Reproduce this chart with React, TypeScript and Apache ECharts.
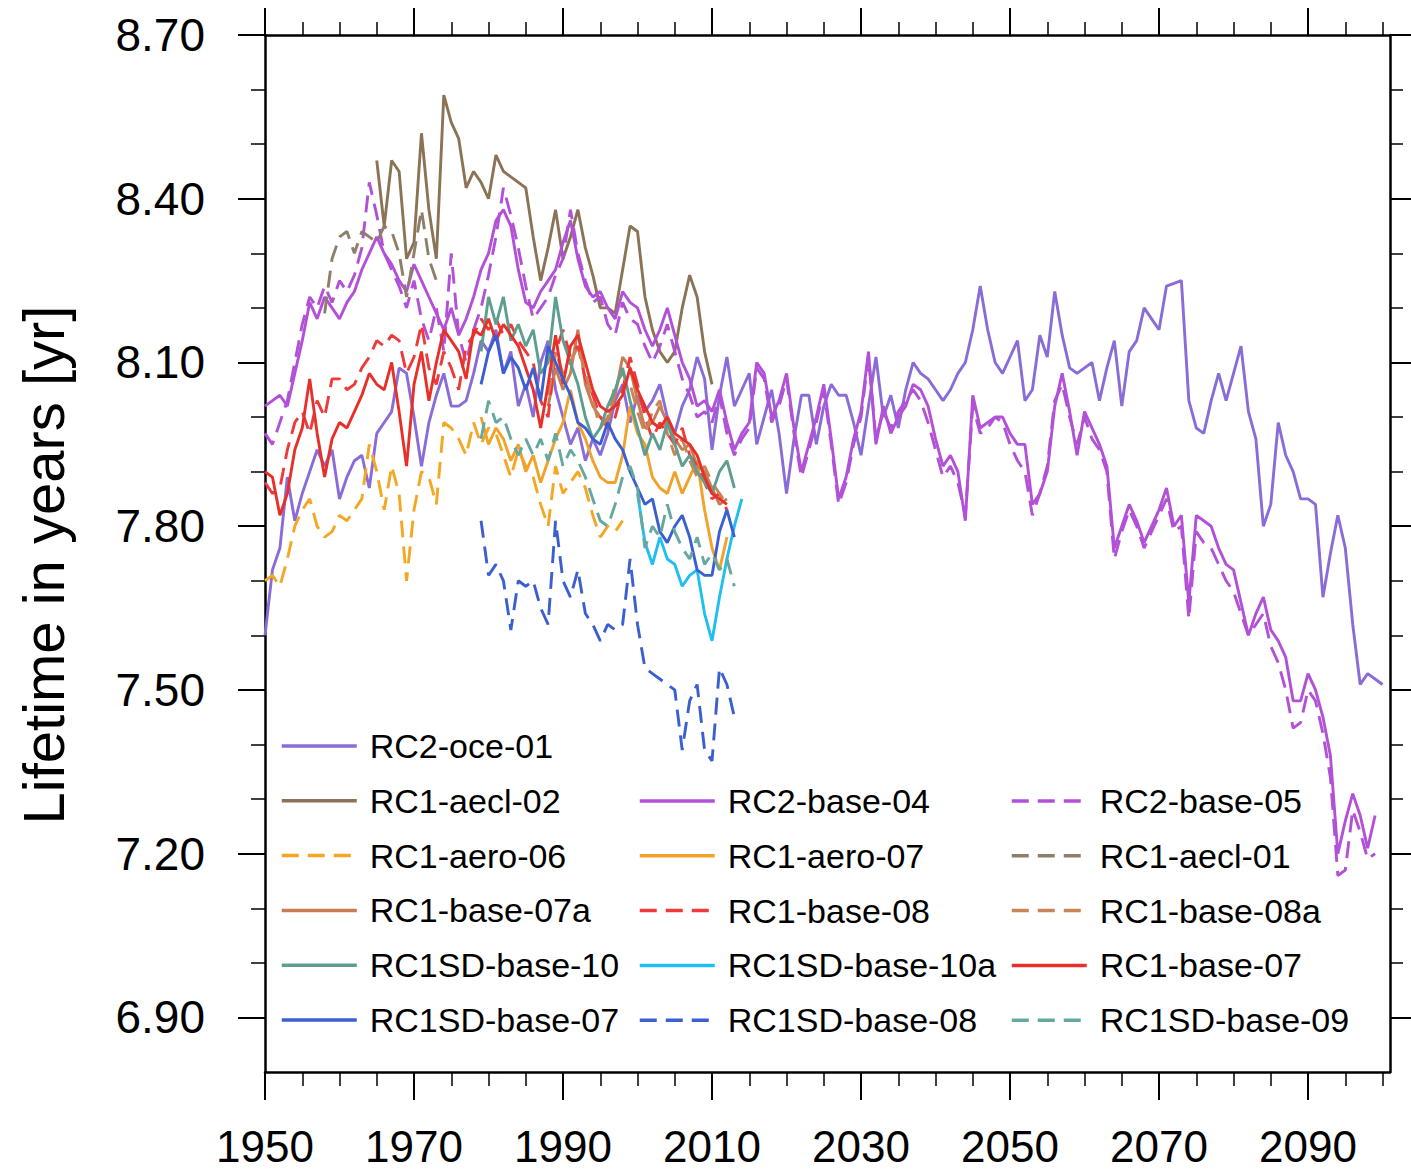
import React, { useEffect, useRef } from "react";
import * as echarts from "echarts";

// ---- axis ticks ----
const xMajorTicks = [1950, 1970, 1990, 2010, 2030, 2050, 2070, 2090];
const xMinorTicks = [1955, 1960, 1965, 1975, 1980, 1985, 1995, 2000, 2005, 2015, 2020, 2025, 2035, 2040, 2045, 2055, 2060, 2065, 2075, 2080, 2085, 2095, 2100];
const yMajorTicks = [6.9, 7.2, 7.5, 7.8, 8.1, 8.4, 8.7];
const yMinorTicks = [7.0, 7.1, 7.3, 7.4, 7.6, 7.7, 7.9, 8.0, 8.2, 8.3, 8.5, 8.6];
const yTitle = "Lifetime in years [yr]";

// ---- series values (annual, from start year) ----
const oce01Start = 1950;
const oce01 = [
  7.60, 7.72, 7.76, 7.89, 7.81, 7.86, 7.90, 7.94, 7.91, 7.94,
  7.85, 7.89, 7.92, 7.93, 7.87, 7.97, 7.99, 8.01, 8.09, 8.08,
  8.00, 7.91, 7.99, 8.04, 8.08, 8.02, 8.02, 8.03, 8.08, 8.14,
  8.12, 8.16, 8.08, 8.12, 8.02, 8.06, 8.00, 8.10, 8.14, 8.05,
  8.00, 7.95, 7.98, 7.92, 7.96, 7.93, 7.97, 8.03, 8.06, 7.99,
  8.04, 8.01, 8.03, 8.06, 8.00, 7.97, 8.02, 8.05, 8.11, 8.07,
  7.94, 8.04, 8.11, 8.02, 8.05, 8.08, 7.95, 8.00, 8.05, 7.97,
  7.86, 7.96, 8.04, 8.04, 7.95, 8.02, 8.06, 8.04, 8.04, 7.99,
  7.93, 8.02, 8.11, 8.00, 8.04, 7.98, 8.05, 8.10, 8.08, 8.07,
  8.05, 8.03, 8.05, 8.08, 8.10, 8.16, 8.24, 8.16, 8.10, 8.08,
  8.11, 8.14, 8.03, 8.05, 8.15, 8.11, 8.23, 8.15, 8.09, 8.08,
  8.09, 8.10, 8.03, 8.09, 8.14, 8.02, 8.12, 8.14, 8.20, 8.18,
  8.16, 8.24, 8.245, 8.25, 8.03, 7.98, 7.97, 8.03, 8.08, 8.03,
  8.08, 8.13, 8.01, 7.96, 7.80, 7.84, 7.99, 7.93, 7.90, 7.85,
  7.85, 7.84, 7.67, 7.75, 7.82, 7.76, 7.62, 7.51, 7.53, 7.52, 7.51,
];
const aecl02Start = 1965;
const aecl02 = [
  8.47, 8.35, 8.47, 8.45, 8.29, 8.32, 8.52, 8.38, 8.29, 8.59,
  8.54, 8.51, 8.42, 8.45, 8.43, 8.40, 8.48, 8.45, 8.44, 8.43,
  8.42, 8.33, 8.25, 8.31, 8.38, 8.29, 8.33, 8.38, 8.31, 8.26,
  8.20, 8.20, 8.19, 8.27, 8.35, 8.34, 8.22, 8.16, 8.12, 8.10,
  8.12, 8.20, 8.26, 8.22, 8.12, 8.06,
];
const base04Start = 1950;
const base04 = [
  8.02, 8.03, 8.04, 8.02, 8.08, 8.14, 8.21, 8.18, 8.22, 8.20,
  8.18, 8.21, 8.23, 8.27, 8.30, 8.33, 8.30, 8.28, 8.25, 8.23,
  8.28, 8.25, 8.22, 8.19, 8.16, 8.20, 8.15, 8.18, 8.22, 8.27,
  8.30, 8.36, 8.38, 8.35, 8.27, 8.21, 8.20, 8.23, 8.25, 8.27,
  8.32, 8.36, 8.29, 8.24, 8.22, 8.23, 8.20, 8.18, 8.23, 8.21,
  8.20, 8.16, 8.13, 8.16, 8.20, 8.15, 8.10, 8.07, 8.02, 8.03,
  8.01, 8.05, 7.99, 7.94, 7.97, 7.99, 8.10, 8.08, 8.00, 8.03,
  8.08, 7.98, 7.90, 7.95, 8.00, 8.06, 7.96, 7.85, 7.89, 7.96,
  8.01, 8.12, 7.95, 8.02, 7.97, 8.00, 8.02, 8.06, 8.05, 8.02,
  7.96, 7.91, 7.93, 7.90, 7.81, 8.04, 7.98, 7.99, 8.00, 8.00,
  7.97, 7.95, 7.95, 7.84, 7.86, 7.90, 8.02, 8.08, 8.01, 7.93,
  8.01, 7.98, 7.95, 7.91, 7.76, 7.80, 7.84, 7.81, 7.77, 7.80,
  7.83, 7.87, 7.80, 7.82, 7.66, 7.82, 7.81, 7.80, 7.76, 7.73,
  7.72, 7.66, 7.60, 7.64, 7.67, 7.61, 7.59, 7.56, 7.48, 7.48,
  7.53, 7.50, 7.45, 7.38, 7.20, 7.26, 7.31, 7.27, 7.21, 7.27,
];
const base05Start = 1950;
const base05 = [
  7.97, 7.95, 7.99, 8.03, 8.10, 8.17, 8.22, 8.20, 8.24, 8.21,
  8.25, 8.23, 8.26, 8.31, 8.43, 8.37, 8.30, 8.27, 8.24, 8.20,
  8.25, 8.18, 8.14, 8.20, 8.12, 8.30, 8.15, 8.10, 8.16, 8.20,
  8.26, 8.33, 8.42, 8.37, 8.31, 8.24, 8.18, 8.20, 8.22, 8.26,
  8.29, 8.38, 8.30, 8.25, 8.21, 8.22, 8.17, 8.15, 8.21, 8.18,
  8.17, 8.13, 8.10, 8.13, 8.17, 8.12, 8.07, 8.04, 8.00, 8.01,
  7.99, 8.04, 7.97, 7.93, 7.96, 7.98, 8.09, 8.07, 7.99, 8.02,
  8.07, 7.97, 7.89, 7.94, 7.99, 8.05, 7.95, 7.84, 7.88, 7.95,
  8.00, 8.11, 7.96, 8.01, 7.98, 8.01, 8.03, 8.05, 8.03, 7.99,
  7.94, 7.89, 7.91, 7.88, 7.82, 8.02, 7.97, 7.98, 8.00, 7.99,
  7.95, 7.92, 7.90, 7.82, 7.86, 7.91, 8.03, 8.06, 8.00, 7.95,
  8.00, 7.96, 7.94, 7.90, 7.74, 7.79, 7.83, 7.80, 7.76, 7.79,
  7.82, 7.85, 7.79, 7.80, 7.63, 7.79, 7.77, 7.76, 7.73, 7.70,
  7.68, 7.64, 7.60, 7.62, 7.64, 7.58, 7.55, 7.50, 7.43, 7.44,
  7.50, 7.48, 7.42, 7.34, 7.16, 7.17, 7.28, 7.24, 7.19, 7.20,
];
const aero06Start = 1950;
const aero06 = [
  7.70, 7.71, 7.69, 7.74, 7.80, 7.83, 7.85, 7.80, 7.78, 7.79,
  7.82, 7.81, 7.83, 7.85, 7.95, 7.90, 7.83, 7.91, 7.86, 7.70,
  7.83, 7.90, 7.89, 7.84, 7.99, 7.98, 7.96, 7.93, 7.99, 7.95,
  7.98, 7.97, 7.93, 7.89, 7.94, 7.91, 7.89, 7.84, 7.80, 7.91,
  7.86, 7.88, 7.90, 7.87, 7.82, 7.78, 7.80, 7.79, 7.81,
];
const aero07Start = 1979;
const aero07 = [
  8.00, 7.95, 7.98, 7.96, 7.92, 7.95, 7.90, 7.93, 7.88, 7.92,
  7.96, 7.99, 8.05, 7.99, 7.96, 7.92, 7.89, 7.88, 7.88, 7.93,
  8.02, 7.97, 7.95, 7.89, 7.87, 7.86, 7.90, 7.86, 7.89, 7.92,
  7.83, 7.76, 7.72, 7.78,
];
const aecl01Start = 1958;
const aecl01 = [8.19, 8.29, 8.33, 8.34, 8.30, 8.34, 8.33, 8.32, 8.35, 8.34, 8.30, 8.22, 8.30, 8.38, 8.29, 8.25];
const base07aStart = 1988;
const base07a = [
  8.02, 8.09, 8.05, 8.08, 8.16, 8.06, 8.02, 8.00, 7.99, 8.04,
  8.11, 8.09, 8.03, 7.98, 7.99, 8.02, 7.99, 7.96, 7.94, 7.95,
  7.91, 7.90, 7.87, 7.84, 7.85,
];
const base08Start = 1950;
const base08 = [
  7.88, 7.86, 7.87, 7.94, 7.99, 8.01, 7.97, 8.03, 8.00, 8.07,
  8.07, 8.05, 8.06, 8.09, 8.11, 8.14, 8.13, 8.15, 8.14, 8.08,
  8.11, 8.17, 8.09, 8.06, 8.12, 8.09, 8.05, 8.13, 8.15, 8.18,
  8.16, 8.18, 8.15, 8.17, 8.14, 8.12, 8.10, 8.03, 8.00, 8.12,
  8.16, 8.11, 8.13, 8.07, 8.04, 8.00, 7.98, 8.00, 8.05, 8.11,
  8.06, 8.00, 7.96, 7.99, 7.97, 7.95, 7.98, 7.93, 7.91, 7.88,
  7.85, 7.86, 7.83,
];
const base08aStart = 1988;
const base08a = [
  8.04, 8.12, 8.08, 8.10, 8.13, 8.08, 8.03, 7.98, 8.00, 8.06,
  8.08, 8.06, 8.01, 7.97, 8.01, 8.03, 7.97, 7.93, 7.96, 7.92,
  7.89, 7.91, 7.88, 7.86, 7.84,
];
const sd10Start = 1979;
const sd10 = [
  8.12, 8.22, 8.17, 8.22, 8.14, 8.17, 8.13, 8.16, 8.08, 8.10,
  8.22, 8.14, 8.10, 8.06, 8.00, 7.96, 7.98, 8.02, 8.05, 8.09,
  8.03, 7.98, 7.93, 7.97, 7.94, 7.99, 7.95, 7.91, 7.93, 7.90,
  7.88, 7.86, 7.90, 7.92, 7.87,
];
const sd10aStart = 2000;
const sd10a = [7.86, 7.77, 7.73, 7.78, 7.74, 7.73, 7.69, 7.71, 7.72, 7.64, 7.59, 7.67, 7.74, 7.80, 7.85];
const base07Start = 1950;
const base07 = [
  7.90, 7.89, 7.82, 7.86, 7.94, 7.98, 8.07, 7.97, 7.89, 7.96,
  7.99, 7.98, 8.01, 8.04, 8.08, 8.06, 8.05, 8.10, 8.01, 7.91,
  8.06, 8.12, 8.03, 8.10, 8.16, 8.14, 8.12, 8.07, 8.16, 8.15,
  8.18, 8.14, 8.17, 8.15, 8.13, 8.09, 8.05, 7.98, 8.06, 8.15,
  8.06, 8.13, 8.15, 8.10, 8.05, 8.02, 8.01, 8.02, 8.04, 8.09,
  8.05, 8.02, 7.99, 7.98, 8.00, 7.97, 7.96, 7.95, 7.93, 7.89,
  7.86, 7.85, 7.84,
];
const sd07Start = 1979;
const sd07 = [
  8.06, 8.12, 8.15, 8.08, 8.11, 8.09, 8.05, 8.09, 8.03, 8.13,
  8.10, 8.07, 8.04, 7.99, 7.98, 7.96, 7.95, 7.99, 7.96, 7.94,
  7.90, 7.87, 7.84, 7.85, 7.79, 7.77, 7.80, 7.82, 7.78, 7.72,
  7.71, 7.71, 7.79, 7.83, 7.78,
];
const sd08Start = 1979;
const sd08 = [
  7.81, 7.71, 7.73, 7.70, 7.61, 7.70, 7.69, 7.70, 7.65, 7.62,
  7.81, 7.70, 7.67, 7.72, 7.64, 7.62, 7.59, 7.62, 7.61, 7.62,
  7.74, 7.62, 7.54, 7.53, 7.52, 7.51, 7.50, 7.39, 7.48, 7.51,
  7.39, 7.37, 7.54, 7.51, 7.45,
];
const sd09Start = 1979;
const sd09 = [
  7.96, 8.03, 7.99, 8.00, 7.96, 7.93, 7.96, 7.93, 7.96, 7.92,
  7.97, 7.91, 7.94, 7.92, 7.89, 7.85, 7.81, 7.80, 7.84, 7.89,
  7.91, 7.87, 7.76, 7.80, 7.78, 7.84, 7.79, 7.76, 7.74, 7.78,
  7.73, 7.75, 7.72, 7.74, 7.69,
];

// ---- series meta (name, values, start, colour, dashed) ----
const seriesList = [
  { name: "RC2-oce-01", values: oce01, start: oce01Start, color: "#8a6cd8", dashed: false },
  { name: "RC1-aecl-02", values: aecl02, start: aecl02Start, color: "#8b7355", dashed: false },
  { name: "RC2-base-04", values: base04, start: base04Start, color: "#b251d8", dashed: false },
  { name: "RC2-base-05", values: base05, start: base05Start, color: "#b251d8", dashed: true },
  { name: "RC1-aero-06", values: aero06, start: aero06Start, color: "#f5a623", dashed: true },
  { name: "RC1-aero-07", values: aero07, start: aero07Start, color: "#f0a22a", dashed: false },
  { name: "RC1-aecl-01", values: aecl01, start: aecl01Start, color: "#8e7f6b", dashed: true },
  { name: "RC1-base-07a", values: base07a, start: base07aStart, color: "#c77c55", dashed: false },
  { name: "RC1-base-08", values: base08, start: base08Start, color: "#ee3a3a", dashed: true },
  { name: "RC1-base-08a", values: base08a, start: base08aStart, color: "#c98558", dashed: true },
  { name: "RC1SD-base-10", values: sd10, start: sd10Start, color: "#5e9e90", dashed: false },
  { name: "RC1SD-base-10a", values: sd10a, start: sd10aStart, color: "#1fbfef", dashed: false },
  { name: "RC1-base-07", values: base07, start: base07Start, color: "#e8302a", dashed: false },
  { name: "RC1SD-base-07", values: sd07, start: sd07Start, color: "#3b5fd0", dashed: false },
  { name: "RC1SD-base-08", values: sd08, start: sd08Start, color: "#3b5fd0", dashed: true },
  { name: "RC1SD-base-09", values: sd09, start: sd09Start, color: "#66a8a0", dashed: true },
];

const legendCol1 = ["RC2-oce-01", "RC1-aecl-02", "RC1-aero-06", "RC1-base-07a", "RC1SD-base-10", "RC1SD-base-07"];
const legendCol2 = ["RC2-base-04", "RC1-aero-07", "RC1-base-08", "RC1SD-base-10a", "RC1SD-base-08"];
const legendCol3 = ["RC2-base-05", "RC1-aecl-01", "RC1-base-08a", "RC1-base-07", "RC1SD-base-09"];

const FONT = "'Liberation Sans', Arial, Helvetica, sans-serif";
const DASH = [17, 9];

export default function App() {
  const ref = useRef<HTMLDivElement>(null);

  useEffect(() => {
    document.body.style.margin = "0";
    if (!ref.current) return;
    const chart = echarts.init(ref.current, undefined, { renderer: "svg" });

    const axisLineStyle = { color: "#000", width: 2.5 };
    const baseX = {
      type: "value" as const,
      min: 1950,
      max: 2101,
      splitLine: { show: false },
    };
    const baseY = {
      type: "value" as const,
      min: 6.8,
      max: 8.7,
      splitLine: { show: false },
    };

    const legendCommon = {
      orient: "vertical" as const,
      padding: 0,
      itemWidth: 75,
      itemHeight: 14,
      itemGap: 14.8,
      selectedMode: false,
      lineStyle: { width: 3.5 },
      itemStyle: { opacity: 0 },
      textStyle: { fontSize: 34, fontFamily: FONT, color: "#000", lineHeight: 40, padding: [0, 0, 0, 8] },
    };

    chart.setOption({
      animation: false,
      backgroundColor: "#fff",
      grid: { left: 265, top: 35, width: 1125, height: 1037, containLabel: false, outerBoundsMode: "none" },
      xAxis: [
        {
          ...baseX,
          position: "bottom",
          axisLine: { show: true, lineStyle: axisLineStyle },
          axisTick: { show: true, customValues: xMajorTicks, length: 28, lineStyle: { color: "#000", width: 2 } },
          axisLabel: {
            show: true,
            customValues: xMajorTicks,
            formatter: (v: number) => String(v),
            fontSize: 44,
            lineHeight: 44,
            fontFamily: FONT,
            color: "#000",
            margin: 52,
          },
        },
        {
          ...baseX,
          position: "bottom",
          axisLine: { show: false },
          axisTick: { show: true, customValues: xMinorTicks, length: 14, lineStyle: { color: "#000", width: 1.5 } },
          axisLabel: { show: false },
        },
        {
          ...baseX,
          position: "top",
          axisLine: { show: true, lineStyle: axisLineStyle },
          axisTick: { show: true, customValues: xMajorTicks, length: 27, lineStyle: { color: "#000", width: 2 } },
          axisLabel: { show: false },
        },
        {
          ...baseX,
          position: "top",
          axisLine: { show: false },
          axisTick: { show: true, customValues: xMinorTicks, length: 13, lineStyle: { color: "#000", width: 1.5 } },
          axisLabel: { show: false },
        },
      ],
      yAxis: [
        {
          ...baseY,
          position: "left",
          axisLine: { show: true, lineStyle: axisLineStyle },
          axisTick: { show: true, customValues: yMajorTicks, length: 27, lineStyle: { color: "#000", width: 2 } },
          axisLabel: {
            show: true,
            customValues: yMajorTicks,
            formatter: (v: number) => v.toFixed(2),
            fontSize: 46,
            fontFamily: FONT,
            color: "#000",
            margin: 60,
          },
        },
        {
          ...baseY,
          position: "left",
          axisLine: { show: false },
          axisTick: { show: true, customValues: yMinorTicks, length: 14, lineStyle: { color: "#000", width: 1.5 } },
          axisLabel: { show: false },
        },
        {
          ...baseY,
          position: "right",
          axisLine: { show: true, lineStyle: axisLineStyle },
          axisTick: { show: true, customValues: yMajorTicks, length: 22, lineStyle: { color: "#000", width: 2 } },
          axisLabel: { show: false },
        },
        {
          ...baseY,
          position: "right",
          axisLine: { show: false },
          axisTick: { show: true, customValues: yMinorTicks, length: 13, lineStyle: { color: "#000", width: 1.5 } },
          axisLabel: { show: false },
        },
      ],
      legend: [
        { ...legendCommon, left: 280, top: 726, data: legendCol1 },
        { ...legendCommon, left: 638, top: 781, data: legendCol2 },
        { ...legendCommon, left: 1010, top: 781, data: legendCol3 },
      ],
      graphic: [
        {
          type: "text",
          x: 43,
          y: 565,
          rotation: Math.PI / 2,
          style: {
            text: yTitle,
            fontSize: 58,
            fontFamily: FONT,
            fill: "#000",
            textAlign: "center",
            textVerticalAlign: "middle",
          },
        },
      ],
      series: seriesList.map((s) => ({
        name: s.name,
        type: "line",
        xAxisIndex: 0,
        yAxisIndex: 0,
        showSymbol: false,
        symbol: "none",
        silent: true,
        emphasis: { disabled: true },
        itemStyle: { color: s.color },
        lineStyle: { color: s.color, width: 2.9, type: s.dashed ? DASH : "solid" },
        data: s.values.map((v, i) => [s.start + i, v]),
      })),
    });

    return () => chart.dispose();
  }, []);

  return <div ref={ref} style={{ width: 1411, height: 1170 }} />;
}
